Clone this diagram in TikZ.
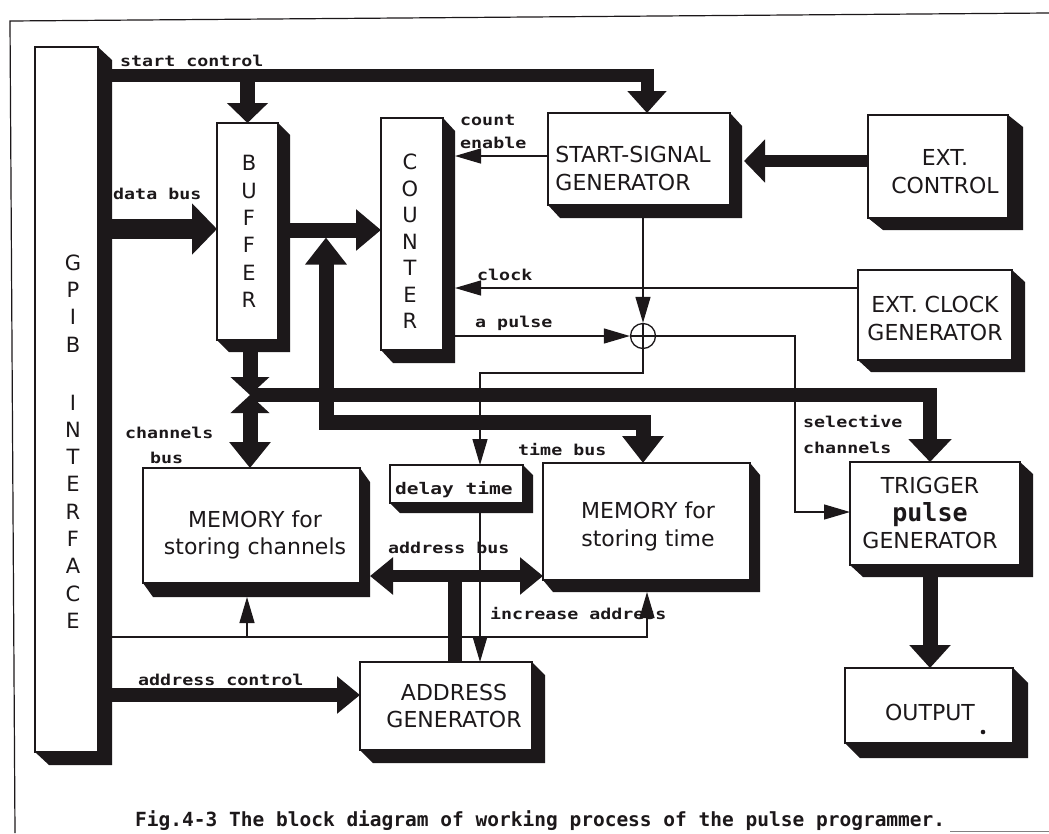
\documentclass[tikz,border=0pt]{standalone}
\usepackage{fontspec}
\usetikzlibrary{arrows.meta,calc}
\newfontfamily\bxfam{DejaVu Sans}
\newfontfamily\lbfam[FakeStretch=1.22]{DejaVu Sans Mono}
\newfontfamily\cpfam{DejaVu Sans Mono}
\newfontfamily\psfam{DejaVu Sans Mono}
\definecolor{ink}{RGB}{28,24,26}
\newcommand\bxfont{\bxfam\fontsize{22}{27.5}\selectfont}
\newcommand\lbfont{\lbfam\bfseries\fontsize{15}{18}\selectfont}
\newcommand\extr[3]{\fill[ink] (#1.north east) -- ++(#2,#3) -- ($(#1.south east)+(#2,#3)$) -- ($(#1.south west)+(#2,#3)$) -- (#1.south west) -- (#1.south east) -- cycle;}
\begin{document}
\begin{tikzpicture}[x=1pt,y=-1pt,color=ink,
  bx/.style={draw=ink, line width=1.2pt, fill=white, inner sep=0pt, outer sep=0pt},
  bxt/.style={font=\bxfont, align=center, inner sep=0pt},
  vt/.style={align=center, inner sep=0pt},
  lbl/.style={font=\lbfont, inner sep=0pt, anchor=base west},
  sig/.style={line width=1.3pt, -{Triangle[length=26pt,width=15pt]}}]
\useasboundingbox (0,0) rectangle (1049,833);
\fill[white] (0,0) rectangle (1049,833);
% frame
\draw[line width=1.2pt] (1049,13) -- (10,21) -- (15,833);
\draw[ink!55, line width=1pt] (950,831.5) -- (1049,831.5);
% boxes
\node[bx, minimum width=63pt, minimum height=705pt] (gpib) at (66.5,399.5) {};
\node[bx, minimum width=61pt, minimum height=217pt] (buffer) at (247.5,231.5) {};
\node[bx, minimum width=62pt, minimum height=232pt] (counter) at (412,234) {};
\node[bx, minimum width=182pt, minimum height=92pt] (start) at (639,159) {};
\node[bx, minimum width=140pt, minimum height=103pt] (extctl) at (938,166.5) {};
\node[bx, minimum width=154pt, minimum height=90pt] (extclk) at (935,315) {};
\node[bx, minimum width=133pt, minimum height=38pt] (delay) at (456.5,484) {};
\node[bx, minimum width=217pt, minimum height=115pt] (memch) at (251.5,525.5) {};
\node[bx, minimum width=207pt, minimum height=117pt] (memtime) at (646.5,521.5) {};
\node[bx, minimum width=172pt, minimum height=88pt] (addr) at (446,706) {};
\node[bx, minimum width=170pt, minimum height=103pt] (trig) at (935,513.5) {};
\node[bx, minimum width=168pt, minimum height=75pt] (out) at (929,705.5) {};
\extr{gpib}{14}{13}
\extr{buffer}{12}{12}
\extr{counter}{12}{13}
\extr{start}{12}{13}
\extr{extctl}{15}{12}
\extr{extclk}{13}{12}
\extr{delay}{10}{10}
\extr{memch}{10}{14}
\extr{memtime}{10}{12}
\extr{addr}{13}{13}
\extr{trig}{13}{12}
\extr{out}{15}{15}
\node[draw=ink, circle, line width=1.3pt, minimum size=25pt, inner sep=0pt, fill=white,
  path picture={\draw[ink, line width=1.3pt] (path picture bounding box.north) -- (path picture bounding box.south) (path picture bounding box.west) -- (path picture bounding box.east);}] (xor) at (643,336) {};
% box texts
\node[vt, font=\bxfam\fontsize{21}{27.3}\selectfont] (gpibT) at (73,441.5) {G\\P\\I\\B\\[30.7pt]I\\N\\T\\E\\R\\F\\A\\C\\E};
\node[vt, font=\bxfam\fontsize{21}{27.4}\selectfont] (bufT) at (249,231.5) {B\\U\\F\\F\\E\\R};
\node[vt, font=\bxfam\fontsize{21}{26.5}\selectfont] (cntT) at (410,241.5) {C\\O\\U\\N\\T\\E\\R};
\node[bxt, align=left] (startT) at (633,168.5) {START-SIGNAL\\GENERATOR};
\node[bxt] (extctlT) at (945,171.5) {EXT.\\CONTROL};
\node[bxt] (extclkT) at (935,318.5) {EXT. CLOCK\\GENERATOR};
\node[bxt] (memchT) at (255,535) {MEMORY for\\storing channels};
\node[bxt] (memtimeT) at (648,526.5) {MEMORY for\\storing time};
\node[bxt] (addrT) at (454,706) {ADDRESS\\GENERATOR};
\node[bxt] (trigT) at (930,513) {TRIGGER\\{\psfam\bfseries\fontsize{25}{27.5}\selectfont pulse}\\GENERATOR};
\node[bxt] (outT) at (930,712) {OUTPUT};
\fill (983,732) circle (2.3pt);
\node[lbl, font=\lbfam\bfseries\fontsize{16}{18}\selectfont] (delayT) at (395,494) {delay time};
% labels
\node[lbl] (stc) at (120,66) {start control};
\node[lbl] (dbl) at (113,199) {data bus};
\node[lbl] (cnt) at (460,125) {count};
\node[lbl] (enb) at (460,148) {enable};
\node[lbl] (clk) at (477,280) {clock};
\node[lbl] (apl) at (475,327) {a pulse};
\node[lbl] (sel) at (803,427) {selective};
\node[lbl] (selc) at (803,453) {channels};
\node[lbl] (tbl) at (518,455) {time bus};
\node[lbl] (abl) at (388,553) {address bus};
\node[lbl] (ial) at (490,619) {increase address};
\node[lbl] (acl) at (138,685) {address control};
\node[lbl] (chl) at (125,438) {channels};
\node[lbl] (chb) at (150,463) {bus};
\node[font=\cpfam\bfseries\fontsize{19.5}{22}\selectfont, anchor=base west, inner sep=0pt] (cap) at (135,826) {Fig.4-3 The block diagram of working process of the pulse programmer.};
% coordinates
\coordinate (sc0) at (105,75);
\coordinate (stX) at (647,75);
\coordinate (scB) at (247.5,72);
\coordinate (db0) at (105,229);
\coordinate (bc0) at (284,230);
\coordinate (tbA) at (326,237.5);
\coordinate (tbC) at (643,422);
\coordinate (junc) at (250,395);
\coordinate (chC) at (930,395);
\coordinate (abL) at (370,576);
\coordinate (abM) at (455,576);
\coordinate (ac0) at (105,695);
\coordinate (ecY) at (860,161);
\coordinate (ceR) at (455,156);
\coordinate (clkR) at (455,288);
\coordinate (apL) at (455,336);
\coordinate (sel1) at (795,512);
\coordinate (dl1) at (480,373);
\coordinate (ia0) at (112,637);
\coordinate (ia1) at (647,637);
\coordinate (ia2) at (247,637);
% thick buses
\draw[line width=13pt, -{Triangle[length=22pt,width=38pt]}] (sc0) -| (start.north -| stX);
\draw[line width=15pt, -{Triangle[length=20pt,width=40pt]}] (scB) -- (buffer.north -| scB);
\draw[line width=20pt, -{Triangle[length=25pt,width=50pt]}] (db0) -- (buffer.west |- db0);
\draw[line width=15pt, -{Triangle[length=25pt,width=40pt]}] (bc0) -- (counter.west |- bc0);
\draw[line width=15pt, {Triangle[length=27pt,width=40pt]}-{Triangle[length=27pt,width=40pt]}] (tbA) |- (tbC) -- (memtime.north -| tbC);
\draw[line width=14pt, -{Triangle[length=23pt,width=42pt]}] (junc) -| (trig.north -| chC);
\draw[line width=15pt, -{Triangle[length=18pt,width=38pt]}] (buffer.south -| junc) -- (junc);
\draw[line width=15pt, {Triangle[length=18pt,width=38pt]}-{Triangle[length=26pt,width=40pt]}] (junc) -- (memch.north -| junc);
\draw[line width=12pt, {Triangle[length=23pt,width=36pt]}-{Triangle[length=23pt,width=36pt]}] (abL) -- (memtime.west |- abL);
\draw[line width=14pt] (addr.north -| abM) -- (abM);
\draw[line width=14pt, -{Triangle[length=23pt,width=36pt]}] (ac0) -- (addr.west |- ac0);
\draw[line width=12pt, -{Triangle[length=21pt,width=42pt]}] (extctl.west |- ecY) -- ($(start.east |- ecY)+(14,0)$);
\draw[line width=15pt, -{Triangle[length=23pt,width=40pt]}] (trig.south -| chC) -- (out.north -| chC);
% thin signals
\draw[sig] (start.west |- ceR) -- (ceR);
\draw[sig] (extclk.west |- clkR) -- (clkR);
\draw[sig] (apL) -- (xor.west);
\draw[sig] (start.south -| xor) -- (xor.north);
\draw[sig] (xor.east) -| (sel1) -- (trig.west |- sel1);
\draw[sig] (xor.south) |- (dl1) -- (delay.north -| dl1);
\draw[sig] (delay.south -| dl1) -- (addr.north -| dl1);
\draw[sig] (ia0) -- (ia1) -- ($(memtime.south -| ia1)+(0,12)$);
\draw[sig] (ia2) -- ($(memch.south -| ia2)+(0,14)$);
\end{tikzpicture}
\end{document}
